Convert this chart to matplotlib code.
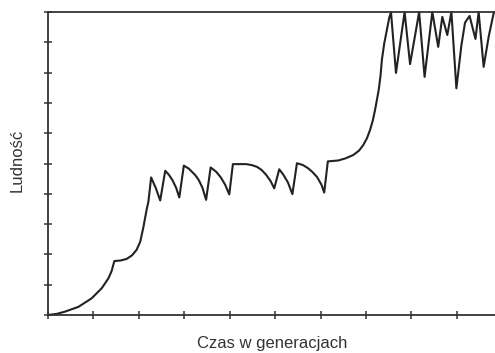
import matplotlib.pyplot as plt

# ==============================
# Data
# ==============================
time_gen = [0.00, 0.20, 0.37, 0.67, 0.96, 1.18, 1.33, 1.40, 1.46,
            1.60, 1.73, 1.85, 1.95, 2.03, 2.10, 2.17, 2.21, 2.27,
            2.37, 2.47, 2.58, 2.66, 2.74, 2.82, 2.89,
            2.99, 3.10, 3.24, 3.32, 3.40, 3.48,
            3.58, 3.70, 3.80, 3.90, 3.99,
            4.07, 4.36, 4.48, 4.60, 4.70, 4.80, 4.90, 4.98,
            5.09, 5.18, 5.28, 5.38,
            5.48, 5.61, 5.72, 5.82, 5.92, 6.02, 6.08,
            6.16, 6.39, 6.55, 6.72, 6.85, 6.94, 7.02, 7.09, 7.15, 7.20, 7.24,
            7.28, 7.32, 7.35, 7.40, 7.46, 7.51, 7.55,
            7.66, 7.85, 7.97, 8.17, 8.29, 8.46, 8.59, 8.68, 8.79, 8.88,
            8.99, 9.10, 9.18, 9.28, 9.41, 9.48, 9.59, 9.70, 9.81, 9.84]
population = [0.00, 0.04, 0.11, 0.27, 0.55, 0.88, 1.21, 1.45, 1.78,
              1.80, 1.85, 1.97, 2.15, 2.42, 2.90, 3.47, 3.74, 4.54,
              4.20, 3.78, 4.76, 4.63, 4.45, 4.20, 3.88,
              4.93, 4.83, 4.62, 4.45, 4.20, 3.80,
              4.87, 4.73, 4.55, 4.30, 3.98,
              4.98, 4.98, 4.95, 4.89, 4.79, 4.63, 4.42, 4.18,
              4.81, 4.63, 4.38, 3.99,
              5.01, 4.95, 4.85, 4.72, 4.56, 4.30, 4.04,
              5.07, 5.10, 5.17, 5.28, 5.43, 5.61, 5.83, 6.11, 6.42, 6.77, 7.10,
              7.43, 7.90, 8.42, 8.95, 9.41, 9.80, 10.0,
              7.99, 10.0, 8.28, 10.0, 7.86, 10.0, 8.85, 9.84, 9.24, 10.0,
              7.48, 8.90, 9.65, 9.87, 9.11, 10.0, 8.19, 9.18, 9.96, 10.0]

x_ticks = list(range(10))
y_ticks = list(range(11))

# ==============================
# Plot
# ==============================
plt.rcParams["font.family"] = ["Liberation Sans", "DejaVu Sans"]

fig = plt.figure(figsize=(4.95, 3.53), dpi=100)
ax = fig.add_axes([0.097, 0.1076, 0.903, 0.8584])

ax.plot(time_gen, population, color="#222222", linewidth=1.5,
        solid_joinstyle="round", clip_on=False)

ax.set_xlim(0, 9.84)
ax.set_ylim(0, 10)
ax.set_xticks(x_ticks)
ax.set_yticks(y_ticks)
ax.set_xticklabels([])
ax.set_yticklabels([])
ax.tick_params(direction="inout", length=6, width=1.1, color="#333333")

for side in ["left", "bottom", "top"]:
    ax.spines[side].set_color("#333333")
    ax.spines[side].set_linewidth(1.3)
ax.spines["right"].set_visible(False)

fig.text(0.034, 0.545, "Ludność", rotation=90, ha="center", va="center",
         fontsize=12, color="#333333")
fig.text(0.55, 0.028, "Czas w generacjach", ha="center", va="center",
         fontsize=12, color="#333333")

fig.savefig("out.png", dpi=100)
